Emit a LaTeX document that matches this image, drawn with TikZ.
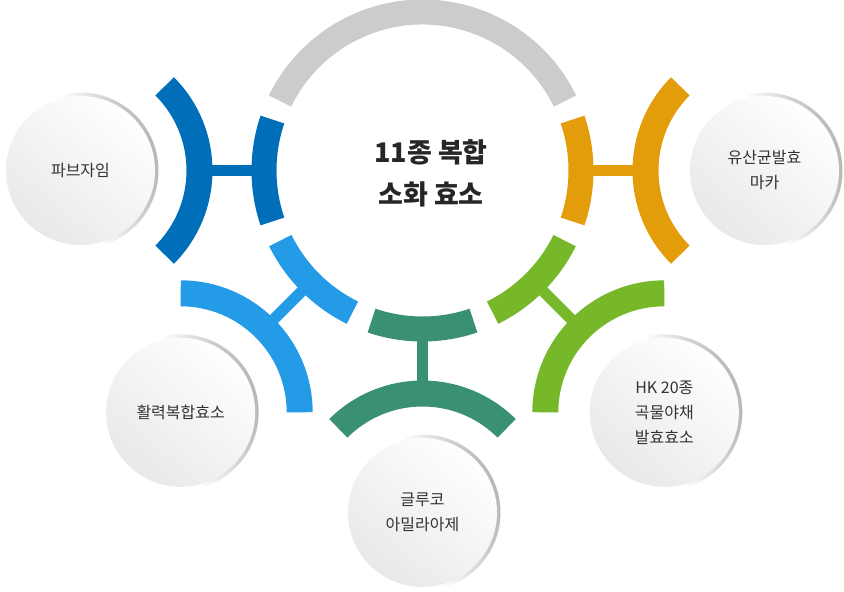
\documentclass[tikz,border=0pt]{standalone}
\usepackage{fontspec}
\setmainfont{Noto Sans CJK KR}
\definecolor{ringgray}{HTML}{CCCCCC}
\definecolor{darkblue}{HTML}{006EB9}
\definecolor{lightblue}{HTML}{239BE6}
\definecolor{tealgreen}{HTML}{3A9075}
\definecolor{leafgreen}{HTML}{76B82A}
\definecolor{amber}{HTML}{E39D0B}
\pgfdeclareverticalshading{rimshade}{100bp}{color(0bp)=(white); color(50bp)=(white);
  color(68bp)=(black!22); color(100bp)=(black!50)}
\begin{document}
\begin{tikzpicture}[x=1pt,y=1pt,
  ring/.style={line width=25pt},
  bracket/.style={line width=26pt},
  link/.style={line width=11pt},
  sat/.style={circle, minimum size=156pt, inner sep=0pt,
    shade, shading=rimshade, shading angle=-75,
    path picture={\shade[top color=white, bottom color=black!9, shading angle=-40]
      (path picture bounding box.center) circle (74.5pt);},
    text=black!80, align=center, font=\fontsize{16}{25}\selectfont}]
\useasboundingbox (-422.5,-421.5) rectangle (421.5,170.5);
% ring round the centre
\draw[ring, ringgray] (26:158.5) arc[start angle=26, end angle=154, radius=158.5];
\draw[ring, darkblue] (161.25:158.5) arc[start angle=161.25, end angle=198.75, radius=158.5];
\draw[ring, lightblue] (206.25:158.5) arc[start angle=206.25, end angle=243.75, radius=158.5];
\draw[ring, tealgreen] (251.25:158.5) arc[start angle=251.25, end angle=288.75, radius=158.5];
\draw[ring, leafgreen] (296.25:158.5) arc[start angle=296.25, end angle=333.75, radius=158.5];
\draw[ring, amber] (-18.75:158.5) arc[start angle=-18.75, end angle=18.75, radius=158.5];
\node[font=\fontsize{27}{42}\selectfont\bfseries, text=black!85, align=center] (core) at (8.5,-3) {11종 복합\\소화 효소};
% outer circles
\node[sat] (fab) at (180:342) {파브자임};
\node[sat] (vital) at (225:342) {활력복합효소};
\node[sat] (gluco) at (270:342) {글루코\\아밀라아제};
\node[sat] (grain) at (315:342) {HK 20종\\곡물야채\\발효효소};
\node[sat] (maca) at (0:342) {유산균발효\\마카};
% links
\coordinate (fab-r) at (180:158.5);
\coordinate (fab-b) at ([shift={(0:119)}]fab.center);
\coordinate (vital-r) at (225:158.5);
\coordinate (vital-b) at ([shift={(45:119)}]vital.center);
\coordinate (gluco-r) at (270:158.5);
\coordinate (gluco-b) at ([shift={(90:119)}]gluco.center);
\coordinate (grain-r) at (315:158.5);
\coordinate (grain-b) at ([shift={(135:119)}]grain.center);
\coordinate (maca-r) at (0:158.5);
\coordinate (maca-b) at ([shift={(180:119)}]maca.center);
\draw[link, darkblue] (fab-r) -- (fab-b);
\draw[link, lightblue] (vital-r) -- (vital-b);
\draw[link, tealgreen] (gluco-r) -- (gluco-b);
\draw[link, leafgreen] (grain-r) -- (grain-b);
\draw[link, amber] (maca-r) -- (maca-b);
% brackets
\draw[bracket, darkblue] ([shift={(-45:119)}]fab.center) arc[start angle=-45, end angle=45, radius=119];
\draw[bracket, lightblue] ([shift={(0:119)}]vital.center) arc[start angle=0, end angle=90, radius=119];
\draw[bracket, tealgreen] ([shift={(45:119)}]gluco.center) arc[start angle=45, end angle=135, radius=119];
\draw[bracket, leafgreen] ([shift={(90:119)}]grain.center) arc[start angle=90, end angle=180, radius=119];
\draw[bracket, amber] ([shift={(135:119)}]maca.center) arc[start angle=135, end angle=225, radius=119];
\end{tikzpicture}
\end{document}
